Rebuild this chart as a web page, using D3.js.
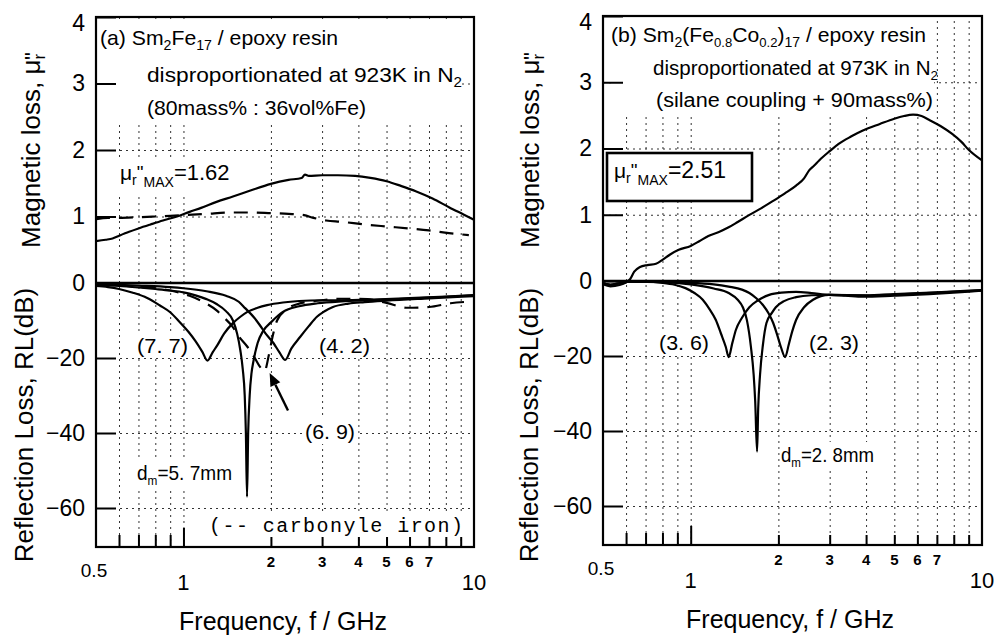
<!DOCTYPE html>
<html>
<head>
<meta charset="utf-8">
<script src="https://cdn.jsdelivr.net/npm/d3@7"></script>
<style>
  body { margin: 0; background: #fff; }
</style>
</head>
<body>
<div id="chart"></div>
<script>
// frequency axis (GHz, log)
const freqGrid = [0.6, 0.7, 0.8, 0.9, 1, 2, 3, 4, 5, 6, 7, 8, 9];
const freqTickMid = [0.6, 0.7, 0.8, 0.9];
const freqTickLong = [1];
const freqTickShort = [2, 3, 4, 5, 6, 7, 8, 9];
const freqLabelBig = [1, 10];
const freqLabelSmall = [2, 3, 4, 5, 6, 7];
const muTicks = [0, 1, 2, 3, 4];
const muGrid = [1, 2, 3];
const rlTicks = [-20, -40, -60];

// (a) Sm2Fe17 : imaginary permeability  [f, mu'']
const muA = [[0.5,0.63],[0.54,0.65],[0.57,0.67],[0.6,0.71],[0.65,0.77],[0.7,0.82],[0.77,0.88],[0.85,0.94],[0.95,1.0],[1.05,1.07],[1.15,1.13],[1.3,1.22],[1.48,1.3],[1.7,1.39],[2.0,1.49],[2.3,1.55],[2.55,1.58],[2.62,1.63],[2.7,1.61],[3.0,1.62],[3.4,1.62],[3.9,1.61],[4.4,1.58],[5.0,1.53],[5.6,1.46],[6.3,1.38],[7.2,1.27],[8.2,1.14],[9.2,1.03],[10,0.95]];
// carbonyl iron (dashed)
const muCarbonyl = [[0.5,0.96],[0.55,0.98],[0.6,0.98],[0.7,0.99],[0.8,1.0],[0.9,1.01],[1.0,1.02],[1.2,1.04],[1.45,1.06],[1.7,1.06],[2.0,1.05],[2.3,1.04],[2.6,1.02],[2.8,0.98],[3.1,0.94],[3.5,0.92],[4.2,0.88],[5.0,0.85],[6.0,0.82],[7.0,0.79],[8.2,0.75],[9.6,0.72]];

// (a) reflection loss [f, dB]
const rlA77 = [[0.5,-0.8],[0.55,-1.1],[0.6,-1.6],[0.67,-2.6],[0.75,-4],[0.83,-6],[0.9,-7.8],[0.97,-10.4],[1.04,-13],[1.1,-15.5],[1.16,-18.3],[1.21,-20.7],[1.26,-18.5],[1.31,-16.5],[1.38,-13.5],[1.48,-10.7],[1.57,-9],[1.66,-7.7],[1.8,-6.6],[1.94,-5.9],[2.2,-5.2],[2.5,-4.8],[3.0,-4.6],[3.5,-4.6],[4.5,-4.4],[6.0,-4.0],[8.0,-3.6],[10,-3.2]];
const rlA57 = [[0.5,-0.5],[0.6,-0.8],[0.7,-1.2],[0.8,-1.6],[0.9,-2.0],[1.0,-2.5],[1.1,-3.3],[1.2,-4.3],[1.3,-5.6],[1.4,-7.5],[1.48,-10],[1.53,-13.5],[1.57,-18],[1.6,-23],[1.625,-30],[1.64,-40],[1.655,-57],[1.67,-40],[1.69,-30],[1.715,-24],[1.74,-21],[1.8,-16],[1.88,-12.8],[2.0,-10.5],[2.2,-7.7],[2.5,-6.2],[2.9,-5.4],[3.5,-4.9],[4.3,-4.6],[5.5,-4.3],[7.5,-3.8],[10,-3.3]];
const rlA42 = [[0.5,-0.3],[0.7,-0.7],[0.9,-1.1],[1.0,-1.4],[1.2,-2.2],[1.4,-3.4],[1.55,-5.0],[1.63,-6.7],[1.75,-9.2],[1.83,-11.2],[1.91,-13.3],[2.04,-16],[2.14,-18.5],[2.24,-20.5],[2.35,-17.5],[2.52,-14.4],[2.7,-11.5],[2.88,-9],[3.05,-7.6],[3.27,-6.4],[3.7,-5.5],[4.2,-5.1],[5.0,-4.7],[7.0,-4.1],[10,-3.5]];
const rlA69 = [[0.5,-0.5],[0.7,-1.0],[0.9,-2.0],[1.05,-3.4],[1.2,-5.5],[1.3,-7.3],[1.37,-9],[1.47,-11.5],[1.56,-14.5],[1.66,-17],[1.76,-20],[1.84,-22.5],[1.9,-23.5],[1.97,-19],[2.03,-14],[2.1,-10],[2.25,-7.2],[2.5,-5.5],[3.0,-4.6],[3.5,-4.2],[4.3,-4.3],[5.0,-5.3],[5.9,-6.6],[7.0,-6.4],[8.3,-5.4],[9.5,-5.0]];

// (b) Sm2(Fe0.8Co0.2)17 : imaginary permeability
const muB = [[0.5,-0.05],[0.53,-0.08],[0.57,-0.06],[0.6,-0.02],[0.62,0.03],[0.64,0.14],[0.67,0.21],[0.71,0.24],[0.76,0.26],[0.8,0.32],[0.85,0.4],[0.91,0.47],[1.0,0.53],[1.07,0.6],[1.15,0.68],[1.25,0.74],[1.35,0.81],[1.45,0.89],[1.58,0.99],[1.75,1.1],[1.92,1.21],[2.1,1.32],[2.3,1.44],[2.45,1.55],[2.55,1.67],[2.65,1.74],[2.76,1.82],[3.0,1.96],[3.22,2.07],[3.55,2.18],[3.9,2.27],[4.46,2.37],[5.0,2.45],[5.4,2.49],[5.8,2.51],[6.2,2.49],[6.6,2.43],[7.2,2.34],[7.9,2.22],[8.5,2.1],[9.0,1.98],[10,1.82]];

// (b) reflection loss
const rlB36 = [[0.5,-0.6],[0.53,-1.0],[0.57,-0.6],[0.62,-0.2],[0.7,-0.2],[0.8,-0.5],[0.88,-1.0],[0.96,-1.9],[1.03,-3.2],[1.1,-5.0],[1.16,-7.5],[1.22,-10.4],[1.27,-14],[1.32,-17.6],[1.35,-20.3],[1.39,-16.5],[1.43,-13],[1.5,-9.8],[1.59,-7],[1.7,-5.2],[1.86,-3.7],[2.05,-3.1],[2.3,-2.9],[2.6,-3.2],[3.0,-3.7],[4.0,-3.8],[5.0,-3.5],[7.0,-3.0],[10,-2.4]];
const rlB28 = [[0.5,-0.6],[0.53,-1.0],[0.57,-0.6],[0.62,-0.2],[0.8,-0.3],[1.0,-0.9],[1.2,-2.0],[1.35,-3.2],[1.45,-5.0],[1.51,-7.0],[1.56,-10.5],[1.61,-17.6],[1.645,-25],[1.665,-32],[1.69,-45.5],[1.705,-34],[1.73,-25],[1.77,-17],[1.82,-11.2],[1.9,-8.5],[1.96,-7.0],[2.1,-5.3],[2.3,-4.3],[2.6,-3.8],[3.0,-3.7],[4.0,-3.9],[5.0,-3.6],[7.0,-3.1],[10,-2.5]];
const rlB23 = [[0.5,-0.6],[0.53,-1.0],[0.57,-0.6],[0.62,-0.2],[1.0,-0.5],[1.2,-0.9],[1.35,-1.5],[1.5,-2.3],[1.59,-3.2],[1.68,-4.6],[1.77,-6.4],[1.85,-8.6],[1.92,-11.2],[1.98,-14.3],[2.04,-17.6],[2.11,-20.3],[2.17,-17],[2.23,-13.5],[2.3,-10.4],[2.45,-7.0],[2.63,-5.0],[2.98,-3.7],[3.4,-3.9],[3.9,-4.2],[5.0,-3.9],[6.6,-3.5],[8.5,-3.0],[10,-2.6]];

const FONT = "'Liberation Sans', Arial, Helvetica, sans-serif";
const NARROW = "'Liberation Sans Narrow', 'Liberation Sans', Arial, sans-serif";

const panels = [
  { left: 96, right: 474, top: 17, zero: 283, bottom: 547, rlSpan: 225,
    magX: 40, magY: 150, refX: 33, refY: 425, freqX: 283, freqY: 630,
    mu: [{ data: muA }, { data: muCarbonyl, dash: true }],
    rl: [{ data: rlA77 }, { data: rlA42 }, { data: rlA57 }, { data: rlA69, dash: true }] },
  { left: 603, right: 982, top: 16, zero: 281, bottom: 545, rlSpan: 225,
    magX: 539, magY: 150, refX: 538, refY: 425, freqX: 790, freqY: 628,
    mu: [{ data: muB }],
    rl: [{ data: rlB36 }, { data: rlB23 }, { data: rlB28 }] }
];

const svg = d3.select("#chart").append("svg")
  .attr("width", 996).attr("height", 638)
  .style("font-family", FONT);

const gridL = svg.append("g");
const bgL = svg.append("g");
const curveL = svg.append("g");
const axisL = svg.append("g");
const textL = svg.append("g").attr("fill", "#000");

// text made of tspans: [string, size, baseline offset, dx]
function rich(g, parts, size) {
  const t = g.append("text").attr("font-size", size);
  let off = 0;
  parts.forEach(([str, s, o = 0, dx = 0]) => {
    const ts = t.append("tspan").attr("font-size", s || size).attr("dy", o - off).text(str);
    if (dx) ts.attr("dx", dx);
    off = o;
  });
  return t;
}

function whiteBehind(texts, padX, padY, clip) {
  let x0 = Infinity, y0 = Infinity, x1 = -Infinity, y1 = -Infinity;
  texts.forEach(t => {
    const b = t.node().getBBox();
    x0 = Math.min(x0, b.x); y0 = Math.min(y0, b.y);
    x1 = Math.max(x1, b.x + b.width); y1 = Math.max(y1, b.y + b.height);
  });
  x0 -= padX; x1 += padX; y0 -= padY; y1 += padY;
  if (clip) { x0 = Math.max(x0, clip[0]); y0 = Math.max(y0, clip[1]); x1 = Math.min(x1, clip[2]); }
  bgL.append("rect").attr("x", x0).attr("y", y0).attr("width", x1 - x0).attr("height", y1 - y0).attr("fill", "#fff");
}

panels.forEach(p => {
  const x = d3.scaleLog().domain([0.5, 10]).range([p.left, p.right]);
  const yMu = d3.scaleLinear().domain([0, 4]).range([p.zero, p.top]);
  const yRL = d3.scaleLinear().domain([0, -60]).range([p.zero, p.zero + p.rlSpan]);
  p.x = x; p.yMu = yMu; p.yRL = yRL;
  const w = p.right - p.left;

  // dotted grid
  const dotted = g => {
    g.select(".domain").remove();
    g.selectAll(".tick line").attr("stroke", "#333").attr("stroke-width", 1).attr("stroke-dasharray", "2,4");
  };
  gridL.append("g").attr("transform", `translate(0,${p.bottom})`)
    .call(d3.axisBottom(x).tickValues(freqGrid).tickSize(-(p.bottom - p.top)).tickFormat(""))
    .call(dotted);
  gridL.append("g").attr("transform", `translate(${p.left},0)`)
    .call(d3.axisLeft(yMu).tickValues(muGrid).tickSize(-w).tickFormat(""))
    .call(dotted);
  gridL.append("g").attr("transform", `translate(${p.left},0)`)
    .call(d3.axisLeft(yRL).tickValues(rlTicks).tickSize(-w).tickFormat(""))
    .call(dotted);

  // curves
  const draw = (series, ys) => series.forEach(s => {
    curveL.append("path")
      .datum(s.data.filter(d => d[0] >= 0.5 && d[0] <= 10))
      .attr("fill", "none").attr("stroke", "#000").attr("stroke-width", 2.2)
      .attr("stroke-linejoin", "round")
      .attr("stroke-dasharray", s.dash ? "14,9" : null)
      .attr("d", d3.line().x(d => x(d[0])).y(d => ys(d[1])).curve(d3.curveMonotoneX));
  });
  draw(p.mu, yMu);
  draw(p.rl, yRL);

  // frame and zero line
  axisL.append("rect").attr("x", p.left).attr("y", p.top).attr("width", w).attr("height", p.bottom - p.top)
    .attr("fill", "none").attr("stroke", "#000").attr("stroke-width", 2.2);
  axisL.append("line").attr("x1", p.left).attr("x2", p.right).attr("y1", p.zero).attr("y2", p.zero)
    .attr("stroke", "#000").attr("stroke-width", 2.6);

  // left axes: ticks inward, labels outside
  const styleY = g => {
    g.select(".domain").remove();
    g.attr("font-family", FONT).attr("font-size", 23);
    g.selectAll(".tick line").attr("stroke", "#000").attr("stroke-width", 2);
    g.selectAll(".tick text").attr("fill", "#000");
  };
  axisL.append("g").attr("transform", `translate(${p.left},0)`)
    .call(d3.axisLeft(yMu).tickValues(muTicks).tickSize(-20).tickPadding(11).tickFormat(d3.format("d")))
    .call(styleY)
    .call(g => g.selectAll(".tick text").filter(d => d === 4).attr("y", 6));
  axisL.append("g").attr("transform", `translate(${p.left},0)`)
    .call(d3.axisLeft(yRL).tickValues(rlTicks).tickSize(-20).tickPadding(11).tickFormat(d3.format("d")))
    .call(styleY);

  // bottom ticks (inward)
  [[freqTickMid, 12], [freqTickLong, 19], [freqTickShort, 10]].forEach(([vals, len]) => {
    axisL.append("g").attr("transform", `translate(0,${p.bottom})`)
      .call(d3.axisBottom(x).tickValues(vals).tickSize(-len).tickFormat(""))
      .call(g => g.select(".domain").remove())
      .call(g => g.selectAll(".tick line").attr("stroke", "#000").attr("stroke-width", 2));
  });

  // bottom labels
  textL.append("text").attr("x", x(0.5) - 2).attr("y", p.bottom + 30)
    .attr("text-anchor", "middle").attr("font-size", 19).text("0.5");
  freqLabelBig.forEach(v => textL.append("text").attr("x", x(v)).attr("y", p.bottom + 43)
    .attr("text-anchor", "middle").attr("font-size", 22).text(v));
  freqLabelSmall.forEach(v => textL.append("text").attr("x", x(v)).attr("y", p.bottom + 20)
    .attr("text-anchor", "middle").attr("font-size", 15).attr("font-weight", "bold").text(v));

  // axis titles
  textL.append("text").attr("x", p.freqX).attr("y", p.freqY).attr("text-anchor", "middle")
    .attr("font-size", 25).text("Frequency, f / GHz");
  rich(textL, [["Magnetic loss, μ", 26], ["r", 17, 5], ['"', 22, 0, -6]], 26)
    .attr("text-anchor", "middle").attr("transform", `translate(${p.magX},${p.magY}) rotate(-90)`);
  textL.append("text").attr("text-anchor", "middle").attr("font-size", 26)
    .attr("transform", `translate(${p.refX},${p.refY}) rotate(-90)`)
    .text("Reflection Loss, RL(dB)");
});

// ---- panel (a) annotations
const pa = panels[0];
const a1 = rich(textL, [["(a) ", 21], ["Sm", 21], ["2", 14, 5], ["Fe", 21, 0], ["17", 14, 5], [" / epoxy resin", 21, 0]], 21)
  .attr("x", 100).attr("y", 45).attr("textLength", 238).attr("lengthAdjust", "spacingAndGlyphs");
const a2 = rich(textL, [["disproportionated at 923K in N", 21], ["2", 14, 5]], 21)
  .attr("x", 147).attr("y", 82).attr("textLength", 315).attr("lengthAdjust", "spacingAndGlyphs");
const a3 = textL.append("text").attr("x", 147).attr("y", 115).attr("font-size", 21)
  .attr("textLength", 219).attr("lengthAdjust", "spacingAndGlyphs").text("(80mass% : 36vol%Fe)");
whiteBehind([a1, a2, a3], 0, 5, [pa.left + 1, pa.top + 1, 462]);

const aMax = rich(textL, [["μ", 21], ["r", 14, 5], ['"', 19, -1], ["MAX", 14, 7], ["=1.62", 22, 0]], 21)
  .attr("x", 120).attr("y", 180);
whiteBehind([aMax], 2, 3);

const lab = (g, str, x, y, len) => g.append("text").attr("x", x).attr("y", y)
  .attr("font-family", NARROW).attr("font-size", 21)
  .attr("textLength", len).attr("lengthAdjust", "spacingAndGlyphs").text(str);
const l77 = lab(textL, "(7. 7)", 137, 353, 51);
const l42 = lab(textL, "(4. 2)", 319, 353, 51);
const l69 = lab(textL, "(6. 9)", 305, 439, 50);
const ldA = rich(textL, [["d", 21], ["m", 13, 5], ["=5. 7mm", 21, 0]], 21)
  .attr("font-family", NARROW).attr("x", 137).attr("y", 480)
  .attr("textLength", 95).attr("lengthAdjust", "spacingAndGlyphs");
const lci = textL.append("text").attr("x", 209).attr("y", 532)
  .attr("font-family", "'Liberation Mono', 'DejaVu Sans Mono', monospace").attr("font-size", 20)
  .attr("textLength", 254).attr("lengthAdjust", "spacing").text("(-- carbonyle iron)");
[l77, l42, l69, ldA, lci].forEach(t => whiteBehind([t], 1, 1));

// arrow pointing at the carbonyl-iron dip
const tip = [pa.x(1.98), pa.yRL(-24)];
const tail = [pa.x(2.29), pa.yRL(-34)];
const ang = Math.atan2(tip[1] - tail[1], tip[0] - tail[0]);
const hl = 13, hw = 5.5;
const base = [tip[0] - hl * Math.cos(ang), tip[1] - hl * Math.sin(ang)];
axisL.append("line").attr("x1", tail[0]).attr("y1", tail[1]).attr("x2", base[0]).attr("y2", base[1])
  .attr("stroke", "#000").attr("stroke-width", 2.4);
axisL.append("path").attr("fill", "#000").attr("d", d3.line()([
  tip,
  [base[0] + hw * Math.sin(ang), base[1] - hw * Math.cos(ang)],
  [base[0] - hw * Math.sin(ang), base[1] + hw * Math.cos(ang)]
]) + "Z");

// ---- panel (b) annotations
const pb = panels[1];
const b1 = rich(textL, [["(b) ", 21], ["Sm", 21], ["2", 14, 5], ["(Fe", 21, 0], ["0.8", 13, 5], ["Co", 21, 0], ["0.2", 13, 5], [")", 21, 0], ["17", 14, 5], [" / epoxy resin", 21, 0]], 21)
  .attr("x", 611).attr("y", 42).attr("textLength", 315).attr("lengthAdjust", "spacingAndGlyphs");
const b2 = rich(textL, [["disproportionated at 973K in N", 20], ["2", 13, 5]], 20)
  .attr("x", 653).attr("y", 75).attr("textLength", 285).attr("lengthAdjust", "spacingAndGlyphs");
const b3 = textL.append("text").attr("x", 656).attr("y", 107).attr("font-size", 20)
  .attr("textLength", 277).attr("lengthAdjust", "spacingAndGlyphs").text("(silane coupling + 90mass%)");
whiteBehind([b1, b2, b3], 0, 5, [pb.left + 1, pb.top + 1, 934]);

bgL.append("rect").attr("x", 607).attr("y", 153).attr("width", 145).attr("height", 48).attr("fill", "#fff");
axisL.append("rect").attr("x", 607).attr("y", 153).attr("width", 145).attr("height", 48)
  .attr("fill", "none").attr("stroke", "#000").attr("stroke-width", 2.6);
rich(textL, [["μ", 21], ["r", 14, 5], ['"', 19, -1], ["MAX", 14, 7], ["=2.51", 23, 0]], 21)
  .attr("x", 614).attr("y", 178);

const l36 = lab(textL, "(3. 6)", 659, 350, 50);
const l23 = lab(textL, "(2. 3)", 809, 350, 50);
const ldB = rich(textL, [["d", 21], ["m", 13, 5], ["=2. 8mm", 21, 0]], 21)
  .attr("font-family", NARROW).attr("x", 781).attr("y", 462)
  .attr("textLength", 93).attr("lengthAdjust", "spacingAndGlyphs");
[l36, l23, ldB].forEach(t => whiteBehind([t], 1, 1));
</script>
</body>
</html>
